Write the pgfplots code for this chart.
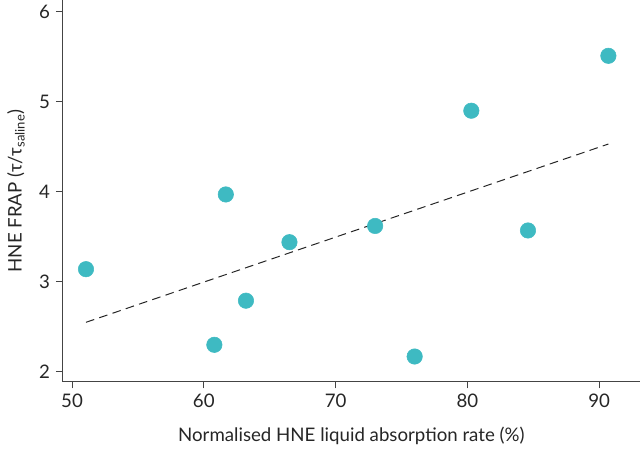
\documentclass[border=0pt]{standalone}
\usepackage{fontspec}
\setmainfont{Lato}
\usepackage{pgfplots}
\pgfplotsset{compat=1.18}
\definecolor{teal1}{HTML}{3EBAC2}
\definecolor{axg}{HTML}{444444}
\begin{document}
\begin{tikzpicture}
\path[use as bounding box] (-47.0pt,-55.0pt) rectangle (433pt,286.3pt);
\begin{axis}[
  scale only axis,
  width=433pt, height=286.3pt,
  xmin=49.29, xmax=93.1,
  ymin=1.89, ymax=6.13,
  axis x line=bottom, axis y line=left,
  axis line style={-, axg, line width=0.8pt},
  xtick={50,60,70,80,90},
  ytick={2,3,4,5,6},
  tick style={axg, line width=0.7pt},
  tick align=outside,
  major tick length=5pt,
  /pgf/number format/assume math mode=true,
  ticklabel style={font=\fontsize{14}{16}\selectfont, text=black!85},
  label style={font=\fontsize{14}{16}\selectfont, text=black!85},
  xticklabel style={yshift=-1pt},
  yticklabel style={xshift=-1pt},
  xlabel={Normalised HNE liquid absorption rate (\%)},
  ylabel={HNE FRAP (τ/τ\textsubscript{saline})},
  xlabel style={yshift=-7pt},
  ylabel style={yshift=4pt},
  clip=false,
]
\addplot[only marks, mark=*, mark size=5.8pt, teal1, mark options={draw=teal1, fill=teal1}] coordinates {
(51.06,3.14) (60.8,2.30) (61.67,3.97) (63.2,2.79) (66.5,3.44)
(73.0,3.62) (76.0,2.17) (80.3,4.90) (84.6,3.57) (90.7,5.51)
};
\addplot[black!85, line width=0.75pt, dash pattern=on 6.5pt off 4pt] coordinates {(51.06,2.55) (90.7,4.53)};
\end{axis}
\end{tikzpicture}
\end{document}
